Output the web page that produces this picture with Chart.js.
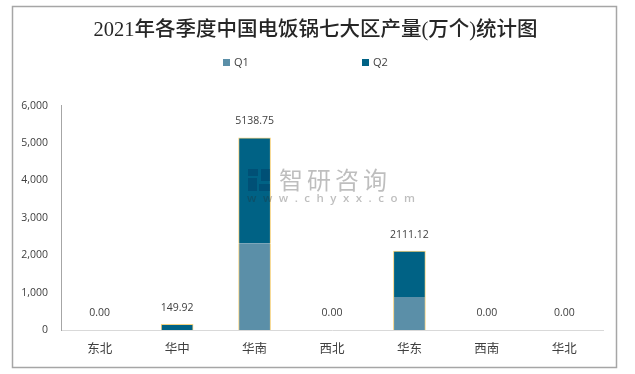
<!DOCTYPE html>
<html>
<head>
<meta charset="utf-8">
<style>
  html, body { margin: 0; padding: 0; background: #fff; }
  #wrap { width: 635px; height: 374px; }
</style>
<script src="https://cdn.jsdelivr.net/npm/chart.js@4/dist/chart.umd.min.js"></script>
</head>
<body>
<div id="wrap"><canvas id="chart" width="635" height="374"></canvas></div>
<script>
const chartTitle = '2021年各季度中国电饭锅七大区产量(万个)统计图';
const regions = ['东北', '华中', '华南', '西北', '华东', '西南', '华北'];
const q1 = [0, 0, 2320, 0, 880, 0, 0];
const q2 = [0, 149.92, 2818.75, 0, 1231.12, 0, 0];
const totals = [0, 149.92, 5138.75, 0, 2111.12, 0, 0];
const seriesNames = ['Q1', 'Q2'];
const seriesColors = ['#5b8fa8', '#006285'];
const cjkFont = '"Noto Sans CJK SC", sans-serif';
const latinFont = '"Open Sans", "Liberation Sans", sans-serif';

// frame, legend, totals above the bars and the watermark
const extras = {
  id: 'extras',
  beforeDraw(chart) {
    const ctx = chart.ctx;
    ctx.save();
    ctx.strokeStyle = '#a6a6a6';
    ctx.lineWidth = 1.5;
    ctx.strokeRect(12.5, 6.5, 604, 361);
    ctx.restore();
  },
  afterDraw(chart) {
    const ctx = chart.ctx;
    const x = chart.scales.x;
    const y = chart.scales.y;
    ctx.save();

    // legend, spread wider than the built in one allows
    const legendX = [223, 362];
    ctx.font = '11px ' + latinFont;
    ctx.textBaseline = 'middle';
    ctx.textAlign = 'left';
    for (let i = 0; i < seriesNames.length; i++) {
      ctx.fillStyle = seriesColors[i];
      ctx.fillRect(legendX[i], 59, 7, 7);
      ctx.fillStyle = '#404040';
      ctx.fillText(seriesNames[i], legendX[i] + 11, 63);
    }

    // totals
    ctx.textAlign = 'center';
    ctx.fillStyle = '#404040';
    ctx.font = '10.5px ' + latinFont;
    for (let i = 0; i < totals.length; i++) {
      ctx.fillText(totals[i].toFixed(2), x.getPixelForValue(i), y.getPixelForValue(totals[i]) - 16.5);
    }

    // watermark
    ctx.fillStyle = 'rgba(40, 40, 40, 0.3)';
    ctx.textAlign = 'left';
    ctx.font = '24px ' + cjkFont;
    ctx.letterSpacing = '4px';
    ctx.fillText('智研咨询', 279, 180);
    ctx.font = '600 11.5px ' + latinFont;
    ctx.letterSpacing = '6.5px';
    ctx.fillText('www.chyxx.com', 247, 199);
    ctx.letterSpacing = '0px';
    ctx.fillStyle = 'rgba(0, 60, 100, 0.45)';
    ctx.fillRect(248, 169, 10, 7);
    ctx.fillRect(261, 169, 9, 12);
    ctx.fillRect(248, 178, 9, 13);
    ctx.fillRect(259, 184, 11, 7);
    ctx.restore();
  }
};

new Chart(document.getElementById('chart'), {
  type: 'bar',
  data: {
    labels: regions,
    datasets: [
      {
        label: seriesNames[0],
        data: q1,
        backgroundColor: seriesColors[0],
        borderColor: '#f5d27f',
        borderWidth: { left: 1, right: 1, top: 0, bottom: 0 },
        borderSkipped: false,
        barThickness: 32
      },
      {
        label: seriesNames[1],
        data: q2,
        backgroundColor: seriesColors[1],
        borderColor: '#f5d27f',
        borderWidth: { left: 1, right: 1, top: 1, bottom: 0 },
        borderSkipped: false,
        barThickness: 32
      }
    ]
  },
  options: {
    responsive: false,
    animation: false,
    layout: { padding: { right: 4 } },
    scales: {
      x: {
        stacked: true,
        grid: { display: false },
        border: { color: '#d9d9d9', width: 1 },
        ticks: { color: '#404040', font: { family: cjkFont, size: 12.5 }, padding: 3, maxRotation: 0 },
        afterFit(scale) { scale.height = 44; }
      },
      y: {
        stacked: true,
        min: 0,
        max: 6000,
        grid: { display: false },
        border: { color: '#a6a6a6', width: 1 },
        ticks: {
          stepSize: 1000,
          color: '#404040',
          font: { family: latinFont, size: 10.5 },
          padding: 5,
          callback: function(v) { return v.toLocaleString('en-US'); }
        },
        afterFit(scale) { scale.width = 61; }
      },
      // empty axis, only keeps the gap on the right so the title stays centred on the page
      gap: {
        position: 'right',
        grid: { display: false },
        border: { display: false },
        ticks: { display: false },
        afterFit(scale) { scale.width = 28; }
      }
    },
    plugins: {
      legend: { display: false },
      tooltip: { enabled: false },
      title: {
        display: true,
        text: chartTitle,
        color: '#262626',
        font: { family: '"Liberation Serif", ' + cjkFont, size: 20.5, weight: '500', lineHeight: 1.2 },
        padding: { top: 18, bottom: 63 }
      }
    }
  },
  plugins: [extras]
});
</script>
</body>
</html>
